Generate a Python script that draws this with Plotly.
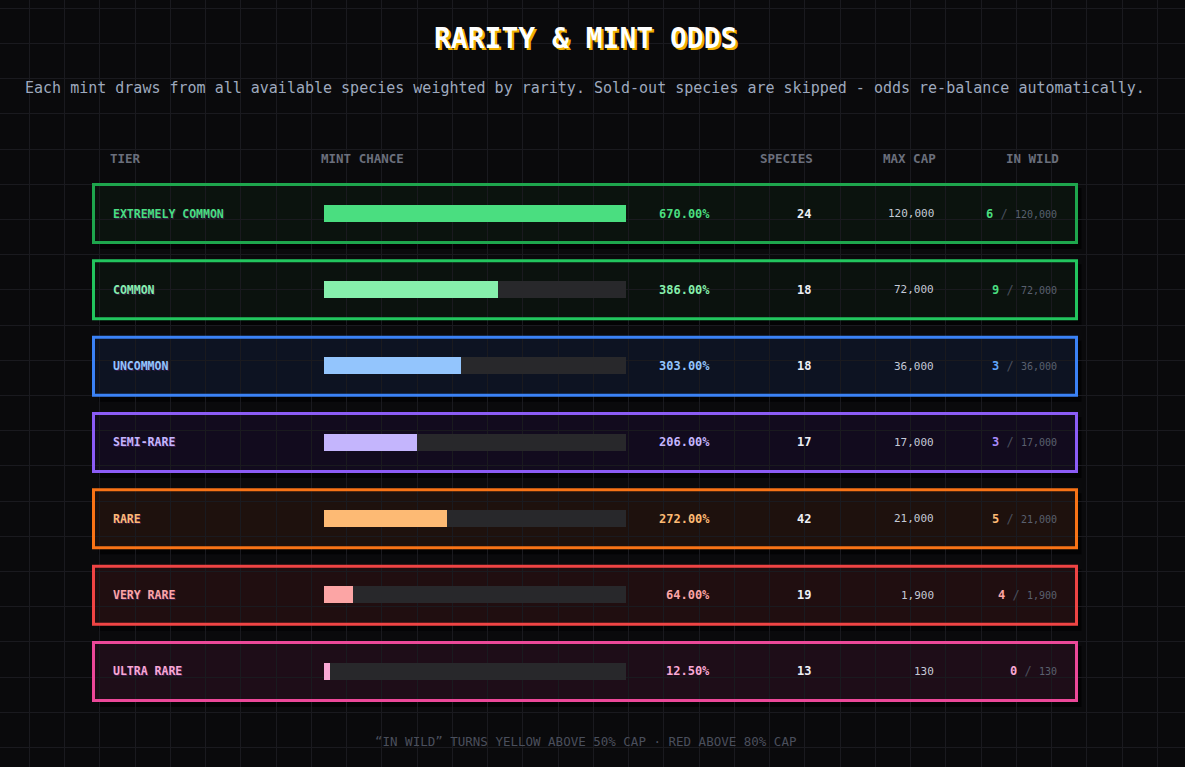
import plotly.graph_objects as go

# ---------------- data ----------------
tiers = ["EXTREMELY COMMON", "COMMON", "UNCOMMON", "SEMI-RARE", "RARE", "VERY RARE", "ULTRA RARE"]
mint_chance = [670.00, 386.00, 303.00, 206.00, 272.00, 64.00, 12.50]
species = [24, 18, 18, 17, 42, 19, 13]
max_cap = [120000, 72000, 36000, 17000, 21000, 1900, 130]
in_wild = [6, 9, 3, 3, 5, 4, 0]

headers = ["TIER", "MINT CHANCE", "SPECIES", "MAX CAP", "IN WILD"]
title_text = "RARITY & MINT ODDS"
subtitle_text = ("Each mint draws from all available species weighted by rarity. "
                 "Sold-out species are skipped - odds re-balance automatically.")
footer_text = "\u201cIN WILD\u201d TURNS YELLOW ABOVE 50% CAP \u00b7 RED ABOVE 80% CAP"

# ---------------- styles ----------------
border_colors = ["#1ea64d", "#22c55e", "#3b82f6", "#8b5cf6", "#f97316", "#ef4444", "#ec4899"]
accent_colors = ["#4ade80", "#86efac", "#93c5fd", "#c4b5fd", "#fdba74", "#fca5a5", "#f9a8d4"]
wild_colors = ["#4ade80", "#4ade80", "#60a5fa", "#a78bfa", "#fdba74", "#fca5a5", "#f9a8d4"]
box_fills = ["#0b130e", "#0b120e", "#0d1322", "#120b1e", "#1e110d", "#200e10", "#1e0d18"]

W, H = 1185, 767
BG = "#0a0a0c"
GRID = "#1a1a1f"
TRACK = "#28282b"
FONT = "DejaVu Sans Mono"

n = len(tiers)
full_scale = max(mint_chance)


def px(x):
    return x / W


def py(y):
    return 1 - y / H


fig = go.Figure()

# background grid subplot (drawn first, under the bars)
fig.add_trace(go.Scatter(x=[0], y=[0], mode="markers", marker=dict(opacity=0),
                         hoverinfo="skip", showlegend=False, xaxis="x", yaxis="y"))

# track bars
fig.add_trace(go.Bar(y=list(range(n)), x=[full_scale] * n, orientation="h",
                     marker=dict(color=TRACK, line=dict(width=0)), width=0.225,
                     hoverinfo="skip", showlegend=False, xaxis="x2", yaxis="y2"))
# value bars
fig.add_trace(go.Bar(y=list(range(n)), x=mint_chance, orientation="h",
                     marker=dict(color=accent_colors, line=dict(width=0)), width=0.225,
                     hoverinfo="skip", showlegend=False, xaxis="x2", yaxis="y2"))

shapes = []
bx0, bx1 = px(93.5), px(1076.5)
half = 0.38
sh = 5 / 76.33
for i in range(n):
    shapes.append(dict(type="rect", xref="paper", yref="y2", layer="below",
                       x0=bx0 + px(5), x1=bx1 + px(5), y0=i - half - 0.02 + sh, y1=i + half + 0.02 + sh,
                       fillcolor="#030304", line=dict(width=0)))
for i in range(n):
    shapes.append(dict(type="rect", xref="paper", yref="y2", layer="below",
                       x0=bx0, x1=bx1, y0=i - half, y1=i + half,
                       fillcolor=box_fills[i], line=dict(width=0)))
for i in range(n):
    shapes.append(dict(type="rect", xref="paper", yref="y2", layer="above",
                       x0=bx0, x1=bx1, y0=i - half, y1=i + half,
                       fillcolor="rgba(0,0,0,0)", line=dict(color=border_colors[i], width=3)))

ann = []
CX = px(585)
ann.append(dict(text=title_text, x=CX, y=py(38), xref="paper", yref="paper",
                showarrow=False, xanchor="center", yanchor="middle",
                font=dict(family=FONT, size=28, color="#ffffff", weight="bold",
                          shadow="2px 2px 0px #f0b000")))
ann.append(dict(text=subtitle_text, x=CX, y=py(88), xref="paper", yref="paper",
                showarrow=False, xanchor="center", yanchor="middle",
                font=dict(family=FONT, size=15, color="#9ea9be")))

# headers
hdr_pos = [(108, "left"), (319, "left"), (815, "right"), (938, "right"), (1061, "right")]
for h, (x, anc) in zip(headers, hdr_pos):
    ann.append(dict(text=h, x=px(x), y=py(158), xref="paper", yref="paper",
                    showarrow=False, xanchor=anc, yanchor="middle",
                    font=dict(family=FONT, size=12.5, color="#6b6f7c", weight="bold")))

for i in range(n):
    ann.append(dict(text=tiers[i], x=px(111), y=i, xref="paper", yref="y2",
                    showarrow=False, xanchor="left", yanchor="middle",
                    font=dict(family=FONT, size=11.5, color=accent_colors[i], weight="bold",
                              shadow="1px 1px 0px rgba(90,40,120,0.55)")))
    ann.append(dict(text=f"{mint_chance[i]:.2f}%", x=px(712), y=i, xref="paper", yref="y2",
                    showarrow=False, xanchor="right", yanchor="middle",
                    font=dict(family=FONT, size=12, color=accent_colors[i], weight="bold")))
    ann.append(dict(text=f"{species[i]}", x=px(813), y=i, xref="paper", yref="y2",
                    showarrow=False, xanchor="right", yanchor="middle",
                    font=dict(family=FONT, size=12, color="#eef0f6", weight="bold")))
    ann.append(dict(text=f"{max_cap[i]:,}", x=px(936), y=i, xref="paper", yref="y2",
                    showarrow=False, xanchor="right", yanchor="middle",
                    font=dict(family=FONT, size=11, color="#c4c9d6")))
    wild_txt = (f"<b><span style='color:{wild_colors[i]}'>{in_wild[i]}</span></b>"
                f"<span style='color:#4a4f5c'> / </span>"
                f"<span style='color:#5a606e;font-size:10px'>{max_cap[i]:,}</span>")
    ann.append(dict(text=wild_txt, x=px(1059), y=i, xref="paper", yref="y2",
                    showarrow=False, xanchor="right", yanchor="middle",
                    font=dict(family=FONT, size=12, color="#5a606e")))

ann.append(dict(text=footer_text, x=CX, y=py(741), xref="paper", yref="paper",
                showarrow=False, xanchor="center", yanchor="middle",
                font=dict(family=FONT, size=12.5, color="#4a4f5c")))

y_top, y_bot = 213.5 - 0.5 * 76.33, 213.5 + 6.5 * 76.33

fig.update_layout(
    width=W, height=H, autosize=False,
    margin=dict(l=0, r=0, t=0, b=0, pad=0),
    paper_bgcolor=BG, plot_bgcolor="rgba(0,0,0,0)",
    barmode="overlay", bargap=0,
    showlegend=False,
    xaxis=dict(domain=[0, 1], range=[0, W], tick0=29.3, dtick=35.25, showgrid=True,
               gridcolor=GRID, gridwidth=1, zeroline=False, showticklabels=False,
               ticks="", showline=False, fixedrange=True),
    yaxis=dict(domain=[0, 1], range=[H, 0], tick0=8.3, dtick=35.2, showgrid=True,
               gridcolor=GRID, gridwidth=1, zeroline=False, showticklabels=False,
               ticks="", showline=False, fixedrange=True),
    xaxis2=dict(domain=[px(324), px(626)], range=[0, full_scale], anchor="y2",
                showgrid=False, zeroline=False, showticklabels=False, ticks="",
                showline=False, fixedrange=True),
    yaxis2=dict(domain=[py(y_bot), py(y_top)], range=[n - 0.5, -0.5], anchor="x2",
                showgrid=False, zeroline=False, showticklabels=False, ticks="",
                showline=False, fixedrange=True),
    shapes=shapes,
    annotations=ann,
    hovermode=False,
)

fig.write_html("out.html", config={"displayModeBar": False},
               post_script="document.body.style.margin='0';document.body.style.background='#0a0a0c';")
